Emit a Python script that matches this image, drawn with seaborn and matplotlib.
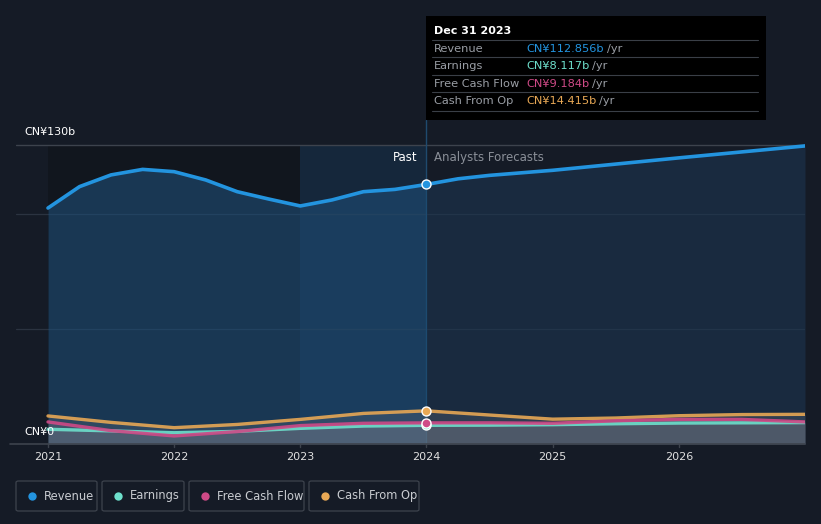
import numpy as np
import pandas as pd
import matplotlib
matplotlib.use("Agg")
import matplotlib.pyplot as plt
import seaborn as sns
from matplotlib.patches import Rectangle, FancyBboxPatch
from matplotlib.lines import Line2D

# ---------------- data (CN¥ billions) ----------------
rev_x = [2021.0, 2021.25, 2021.5, 2021.75, 2022.0, 2022.25, 2022.5, 2022.75, 2023.0,
         2023.25, 2023.5, 2023.75, 2024.0, 2024.25, 2024.5, 2025.0, 2026.0, 2027.0]
rev_y = [102.6, 111.9, 117.0, 119.4, 118.4, 114.8, 109.7, 106.5, 103.5,
         106.1, 109.7, 110.7, 112.856, 115.3, 116.8, 119.0, 124.4, 129.6]

sm_x = [2021.0, 2021.5, 2022.0, 2022.5, 2023.0, 2023.5, 2024.0, 2024.5, 2025.0, 2025.5, 2026.0, 2026.5, 2027.0]
earn_y = [6.4, 5.7, 4.9, 5.5, 6.8, 7.8, 8.117, 8.2, 8.4, 8.8, 9.1, 9.2, 9.3]
fcf_y = [9.6, 5.8, 3.5, 5.4, 8.0, 9.0, 9.184, 9.2, 9.0, 10.1, 10.7, 10.7, 9.6]
cfo_y = [12.2, 9.4, 7.1, 8.5, 10.7, 13.3, 14.415, 12.6, 10.8, 11.3, 12.3, 12.8, 12.9]

year_ticks = [2021, 2022, 2023, 2024, 2025, 2026]
series_names = ["Revenue", "Earnings", "Free Cash Flow", "Cash From Op"]
series_colors = ["#2394df", "#6ee0cc", "#cf4a87", "#e8a855"]
tooltip_vals = ["CN¥112.856b", "CN¥8.117b", "CN¥9.184b", "CN¥14.415b"]

BG = "#151b26"
W, H = 821, 524

sns.set_theme(style="dark")
plt.rcParams["font.family"] = ["DejaVu Sans"]

fig = plt.figure(figsize=(W / 100, H / 100), dpi=100, facecolor=BG)
# axes spans x px 16..805, y px 120..444
ax = fig.add_axes([16 / W, 1 - 444 / H, (805 - 16) / W, (444 - 120) / H])
ax.set_facecolor(BG)
x0 = 2021 - 32 / 126.2
ax.set_xlim(x0, 2027.0)
ymax = (444 - 120) / 2.3
ax.set_ylim(0, ymax)
for s in ax.spines.values():
    s.set_visible(False)
ax.set_xticks([])
ax.set_yticks([])

top_v = 130
# past shading 2021-2023 (dark) and highlight 2023-2024
ax.add_patch(Rectangle((2021, 0), 2.0, top_v, facecolor="#0f1218", alpha=0.55, lw=0, zorder=0))
ax.add_patch(Rectangle((2023, 0), 1.0, top_v, facecolor="#16324d", alpha=0.55, lw=0, zorder=0))

# gridlines
for gv in [50, 100]:
    ax.axhline(gv, color="#2b3340", lw=0.9, zorder=1)
ax.plot([x0, 2027], [130, 130], color="#3d434d", lw=1.0, zorder=1)
ax.plot([x0 - 0.05, 2027], [0, 0], color="#3d434d", lw=1.2, zorder=6, clip_on=False)
# vertical marker at 2024
ax.plot([2024, 2024], [0, ymax], color="#1f4a6e", lw=1.0, zorder=2)

rx = np.array(rev_x); ry = np.array(rev_y)
past = rx <= 2024.0
fut = rx >= 2024.0
ax.fill_between(rx[past], 0, ry[past], color="#1e4c74", alpha=0.62, lw=0, zorder=2)
ax.fill_between(rx[fut], 0, ry[fut], color="#1c3550", alpha=0.6, lw=0, zorder=2)

sx = np.array(sm_x)
for ys in [cfo_y, fcf_y, earn_y]:
    ax.fill_between(sx, 0, ys, color="#747b88", alpha=0.25, lw=0, zorder=3)

df_rev = pd.DataFrame({"x": rev_x, "y": rev_y})
sns.lineplot(data=df_rev, x="x", y="y", color=series_colors[0], lw=2.6, ax=ax, zorder=5)
for ys, c in [(cfo_y, series_colors[3]), (earn_y, series_colors[1]), (fcf_y, series_colors[2])]:
    d = pd.DataFrame({"x": sm_x, "y": ys})
    sns.lineplot(data=d, x="x", y="y", color=c, lw=2.4, ax=ax, zorder=5, alpha=0.9)
ax.set_xlabel(""); ax.set_ylabel("")

# markers at 2024
for val, c in [(rev_y[12], series_colors[0]), (cfo_y[6], series_colors[3]),
               (earn_y[6], series_colors[1]), (fcf_y[6], series_colors[2])]:
    ax.scatter([2024.0], [val], s=42, color=c, edgecolor="white", linewidth=1.0, zorder=7)

# texts in chart
ax.text(2024 - 0.07, 124.5, "Past", color="white", fontsize=8.5, ha="right", va="center", zorder=8)
ax.text(2024 + 0.06, 124.5, "Analysts Forecasts", color="#8a8f98", fontsize=8.5, ha="left", va="center", zorder=8)
fig.text(24 / W, 1 - 132 / H, "CN¥130b", color="white", fontsize=8, ha="left", va="center")
fig.text(24 / W, 1 - 432 / H, "CN¥0", color="white", fontsize=8, ha="left", va="center")

for yr in year_ticks:
    ax.text(yr, -5.6, str(yr), color="#e0e0e0", fontsize=8, ha="center", va="center", clip_on=False)
    ax.plot([yr, yr], [0, -1.2], color="#3d434d", lw=1, clip_on=False)

# tooltip
fig.patches.append(Rectangle((426 / W, 1 - 120 / H), 340 / W, 104 / H, transform=fig.transFigure,
                             facecolor="#000000", edgecolor="none", zorder=10))
fig.text(434 / W, 1 - 31 / H, "Dec 31 2023", color="white", fontsize=8, fontweight="bold",
         ha="left", va="center", zorder=11)
row_y = [49, 66, 84, 101]
for i, (nm, val, c) in enumerate(zip(series_names, tooltip_vals, series_colors)):
    yy = 1 - row_y[i] / H
    sep = 1 - (row_y[i] - 9) / H
    fig.lines.append(Line2D([432 / W, 758 / W], [sep, sep], transform=fig.transFigure,
                            color="#3a3f47", lw=0.8, zorder=11))
    fig.text(434 / W, yy, nm, color="#9a9ea5", fontsize=8.2, ha="left", va="center", zorder=11)
    t = fig.text(526 / W, yy, val, color=c, fontsize=8.2, ha="left", va="center", zorder=11)
    fig.canvas.draw()
    bb = t.get_window_extent()
    fig.text(bb.x1 / W + 3 / W, yy, "/yr", color="#9a9ea5", fontsize=8.2, ha="left", va="center", zorder=11)
sep = 1 - 111 / H
fig.lines.append(Line2D([432 / W, 758 / W], [sep, sep], transform=fig.transFigure,
                        color="#3a3f47", lw=0.8, zorder=11))

# legend boxes
box_x = [16, 102, 189, 309]
box_w = [81, 82, 115, 110]
for nm, c, bx, bw in zip(series_names, series_colors, box_x, box_w):
    fig.patches.append(FancyBboxPatch((bx / W, 1 - 511 / H), bw / W, 30 / H,
                                      boxstyle="round,pad=0,rounding_size=0.003",
                                      transform=fig.transFigure, facecolor=BG,
                                      edgecolor="#3d434d", lw=0.9))
    fig.lines.append(Line2D([(bx + 16) / W], [1 - 496 / H], transform=fig.transFigure,
                            marker="o", markersize=6, color=c, markeredgewidth=0))
    fig.text((bx + 28) / W, 1 - 496 / H, nm, color="#c8cbd0", fontsize=8.3, ha="left", va="center")

fig.savefig("out.png", dpi=100, facecolor=BG)
